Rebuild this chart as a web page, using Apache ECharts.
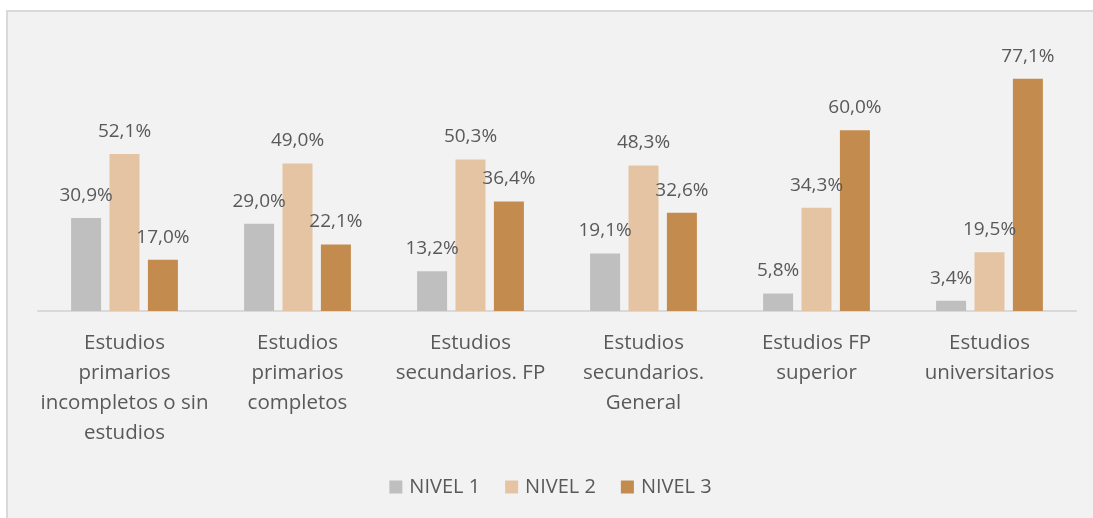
<!DOCTYPE html>
<html><head><meta charset="utf-8">
<script src="https://cdn.jsdelivr.net/npm/echarts@6/dist/echarts.min.js"></script>
<style>
html,body{margin:0;padding:0;background:#fff;width:1093px;height:518px;overflow:hidden}
#c{position:absolute;left:6px;top:10px;width:1087px;height:508px;box-sizing:border-box;border-top:2px solid #d9d9d9;border-left:2px solid #d9d9d9;background:#f2f2f2}
</style></head><body>
<div id="c"></div>
<script>
const categories = ["Estudios\nprimarios\nincompletos o sin\nestudios","Estudios\nprimarios\ncompletos","Estudios\nsecundarios. FP","Estudios\nsecundarios.\nGeneral","Estudios FP\nsuperior","Estudios\nuniversitarios"];
const seriesNames = ["NIVEL 1","NIVEL 2","NIVEL 3"];
const nivel1 = [30.9,29.0,13.2,19.1,5.8,3.4];
const nivel2 = [52.1,49.0,50.3,48.3,34.3,19.5];
const nivel3 = [17.0,22.1,36.4,32.6,60.0,77.1];
const colors = ["#bfbfbf","#e5c4a3","#c38c4e"];
const font = "'Open Sans', 'Noto Sans', sans-serif";
const fmt = p => p.value.toFixed(1).replace('.', ',') + '%';
const chart = echarts.init(document.getElementById('c'));
chart.setOption({
  animation:false,
  textStyle:{fontFamily:font},
  grid:{left:30,right:17,top:28,bottom:207,containLabel:false},
  legend:{bottom:16,left:'center',itemWidth:13,itemHeight:13,itemGap:25,icon:'rect',
    textStyle:{color:'#595959',fontSize:20,fontFamily:font,padding:[0,0,0,2]},data:seriesNames},
  xAxis:{type:'category',data:categories,axisTick:{show:false},
    axisLine:{lineStyle:{color:'#d9d9d9',width:2}},
    axisLabel:{color:'#595959',fontSize:20.5,lineHeight:30,margin:17,interval:0,fontFamily:font}},
  yAxis:{type:'value',min:0,max:90,show:false,splitLine:{show:false}},
  series:[nivel1,nivel2,nivel3].map((d,i)=>({
    name:seriesNames[i],type:'bar',data:d,barWidth:30,barGap:'28%',
    itemStyle:{color:colors[i]},
    label:{show:true,position:'top',distance:13,formatter:fmt,color:'#595959',fontSize:19,fontFamily:font}
  }))
});
</script></body></html>
